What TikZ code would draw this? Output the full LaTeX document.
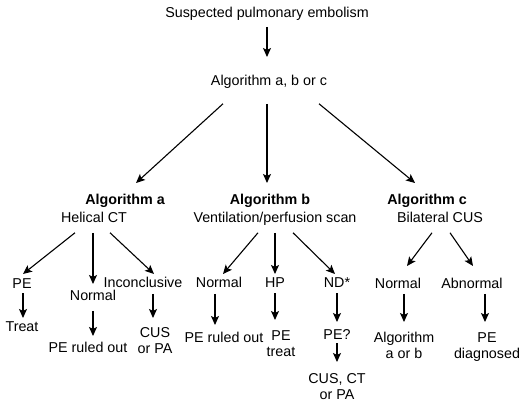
\documentclass[tikz,border=0pt]{standalone}
\usepackage{fontspec}
\setmainfont{Liberation Sans}
\usepackage{tikz}
\usetikzlibrary{arrows.meta, positioning}

\begin{document}
\begin{tikzpicture}[
        x=1pt, y=-1pt,
        every node/.style={
            anchor=north,
            inner sep=0pt,
            text depth=0pt,
            font=\fontsize{14.3}{16}\selectfont
        },
        twoline/.style={align=center},
        head/.style={font=\fontsize{14.3}{16}\selectfont\bfseries},
        arr/.style={
            -{Stealth[length=9pt, width=8pt, inset=2pt]},
            line width=1.1pt
        }
    ]
        \useasboundingbox (0,0) rectangle (520,406);

        % Top
        \node (susp) at (267,7) {Suspected pulmonary embolism};
        \node (algall) at (269,75) {Algorithm a, b or c};

        % Algorithms
        \node[head] (alga) at (125,194) {Algorithm a};
        \node (helical) at (94,212) {Helical CT};
        \node[head] (algb) at (270,194) {Algorithm b};
        \node (vq) at (275,212) {Ventilation/perfusion scan};
        \node[head] (algc) at (427,194) {Algorithm c};
        \node (cus) at (440,212) {Bilateral CUS};

        % Algorithm a results
        \node (pea) at (22,278) {PE};
        \node (treat) at (22,321) {Treat};
        \node (norma) at (93,290) {Normal};
        \node (ruleda) at (88,342) {PE ruled out};
        \node (incon) at (143,277) {Inconclusive};
        \node[twoline] (cuspa) at (155,327) {CUS\\or PA};

        % Algorithm b results
        \node (normb) at (219,277) {Normal};
        \node (ruledb) at (224,332) {PE ruled out};
        \node (hp) at (275,277) {HP};
        \node[twoline] (petreat) at (281,330) {PE\\treat};
        \node (nd) at (337,277) {ND*};
        \node (pec) at (337,329) {PE?};
        \node[twoline] (cusct) at (337,373) {CUS, CT\\or PA};

        % Algorithm c results
        \node (normc) at (398,278) {Normal};
        \node[twoline] (algab) at (404,332) {Algorithm\\a or b};
        \node (abn) at (472,278) {Abnormal};
        \node[twoline] (pediag) at (487,332) {PE\\diagnosed};

        % Arrows
        \draw[arr] ([yshift=-9pt]susp.south) -- ([xshift=-2pt, yshift=18pt]algall.north);
        \draw[arr] ([xshift=-46pt, yshift=-18pt]algall.south) -- ([xshift=11pt, yshift=11pt]alga.north);
        \draw[arr] ([xshift=-2pt, yshift=-18pt]algall.south) -- ([xshift=-3pt, yshift=11pt]algb.north);
        \draw[arr] ([xshift=50pt, yshift=-18pt]algall.south) -- ([xshift=-12pt, yshift=11pt]algc.north);

        \draw[arr] ([xshift=-19pt, yshift=-10pt]helical.south) -- ([xshift=1pt, yshift=4pt]pea.north);
        \draw[arr] ([xshift=-1pt, yshift=-10pt]helical.south) -- ([yshift=6pt]norma.north);
        \draw[arr] ([xshift=16pt, yshift=-10pt]helical.south) -- ([xshift=11pt, yshift=3pt]incon.north);
        \draw[arr] ([xshift=1pt, yshift=-5pt]pea.south) -- ([xshift=1pt, yshift=3pt]treat.north);
        \draw[arr] ([yshift=-10pt]norma.south) -- ([xshift=5pt, yshift=6pt]ruleda.north);
        \draw[arr] ([xshift=10pt, yshift=-6pt]incon.south) -- ([xshift=-2pt, yshift=9pt]cuspa.north);

        \draw[arr] ([xshift=-17pt, yshift=-10pt]vq.south) -- ([xshift=4pt, yshift=3pt]normb.north);
        \draw[arr] ([yshift=-10pt]vq.south) -- ([yshift=3pt]hp.north);
        \draw[arr] ([xshift=18pt, yshift=-10pt]vq.south) -- ([xshift=-2pt, yshift=3pt]nd.north);
        \draw[arr] ([xshift=-4pt, yshift=-6pt]normb.south) -- ([xshift=-9pt, yshift=7pt]ruledb.north);
        \draw[arr] ([yshift=-6pt]hp.south) -- ([xshift=-6pt, yshift=10pt]petreat.north);
        \draw[arr] ([yshift=-6pt]nd.south) -- ([yshift=7pt]pec.north);
        \draw[arr] ([yshift=-4pt]pec.south) -- ([yshift=11pt]cusct.north);

        \draw[arr] ([xshift=-8pt, yshift=-10pt]cus.south) -- ([xshift=9pt, yshift=12pt]normc.north);
        \draw[arr] ([xshift=10pt, yshift=-10pt]cus.south) -- ([xshift=1pt, yshift=12pt]abn.north);
        \draw[arr] ([xshift=6pt, yshift=-5pt]normc.south) -- ([yshift=10pt]algab.north);
        \draw[arr] ([xshift=13pt, yshift=-5pt]abn.south) -- ([xshift=-2pt, yshift=10pt]pediag.north);

    \end{tikzpicture}
\end{document}
